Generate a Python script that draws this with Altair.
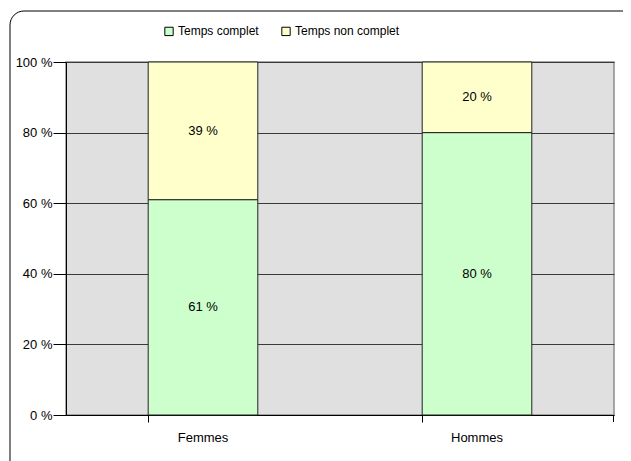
import altair as alt
import pandas as pd

categories = ["Femmes", "Femmes", "Hommes", "Hommes"]
series = ["Temps complet", "Temps non complet", "Temps complet", "Temps non complet"]
values = [61, 39, 80, 20]
y_ticks = [0, 20, 40, 60, 80, 100]
series_order = ["Temps complet", "Temps non complet"]
colors = ["#CCFFCC", "#FFFFCC"]

df = pd.DataFrame({"cat": categories, "serie": series, "val": values,
                   "ord": [series_order.index(s) for s in series]})

FONT = "Liberation Sans"
W, H = 548, 353

xscale = alt.Scale(paddingInner=0.6, paddingOuter=0.3)

base = alt.Chart(df)

bars = base.mark_bar(stroke="#222222", strokeWidth=1).encode(
    x=alt.X("cat:N", scale=xscale, title=None,
            axis=alt.Axis(labelAngle=0, bandPosition=0, tickSize=7, tickColor="#000000",
                          domainColor="#000000", labelPadding=9, labelFontSize=13,
                          labelFont=FONT, labelColor="#000000", grid=False)),
    y=alt.Y("val:Q", stack="zero", scale=alt.Scale(domain=[0, 100]), title=None,
            axis=alt.Axis(values=y_ticks, labelExpr="datum.value + ' %'", tickSize=13,
                          labelPadding=1, tickColor="#000000", domainColor="#000000",
                          gridColor="#3a3a3a", gridWidth=1, labelFontSize=13,
                          labelFont=FONT, labelColor="#000000")),
    color=alt.Color("serie:N", scale=alt.Scale(domain=series_order, range=colors), title=None,
                    legend=alt.Legend(orient="none", legendX=97, legendY=-37, direction="horizontal",
                                      symbolType="square", symbolSize=70, symbolStrokeColor="#000000",
                                      symbolStrokeWidth=1, labelFontSize=12, labelFont=FONT,
                                      labelColor="#000000", columnPadding=20, labelOffset=3)),
    order=alt.Order("ord:Q"),
)

labels = base.transform_stack(
    stack="val", groupby=["cat"], as_=["v0", "v1"], sort=[alt.SortField("ord")]
).transform_calculate(
    mid="(datum.v0 + datum.v1) / 2", lab="datum.val + ' %'"
).mark_text(font=FONT, fontSize=13, color="#000000").encode(
    x=alt.X("cat:N", scale=xscale),
    y=alt.Y("mid:Q"),
    text="lab:N",
)

baseline = base.mark_rule(color="#222222", strokeWidth=2).encode(
    x=alt.X("cat:N", scale=xscale, bandPosition=0.2),
    x2=alt.X2("cat"),
    y=alt.value(H),
).transform_filter("datum.ord == 0")

endtick = base.mark_rule(color="#000000").encode(
    x=alt.value(W - 0.5), y=alt.value(H), y2=alt.value(H + 7)
).transform_filter("datum.ord == 0 && datum.cat == 'Femmes'")

frame = base.mark_rect(fill=None, stroke="#000000", strokeWidth=1, cornerRadius=14).encode(
    x=alt.value(-56), x2=alt.value(620), y=alt.value(-51), y2=alt.value(420)
).transform_filter("datum.ord == 0 && datum.cat == 'Femmes'")

chart = alt.layer(frame, bars, labels, endtick).properties(
    width=W, height=H,
    autosize=alt.AutoSizeParams(type="none"),
    padding={"left": 58, "top": 54, "right": 9, "bottom": 46},
).configure_view(fill="#E0E0E0", stroke="#8c8c8c", strokeWidth=1.5)

chart.save("out.html", embed_options={"renderer": "svg", "actions": False})
